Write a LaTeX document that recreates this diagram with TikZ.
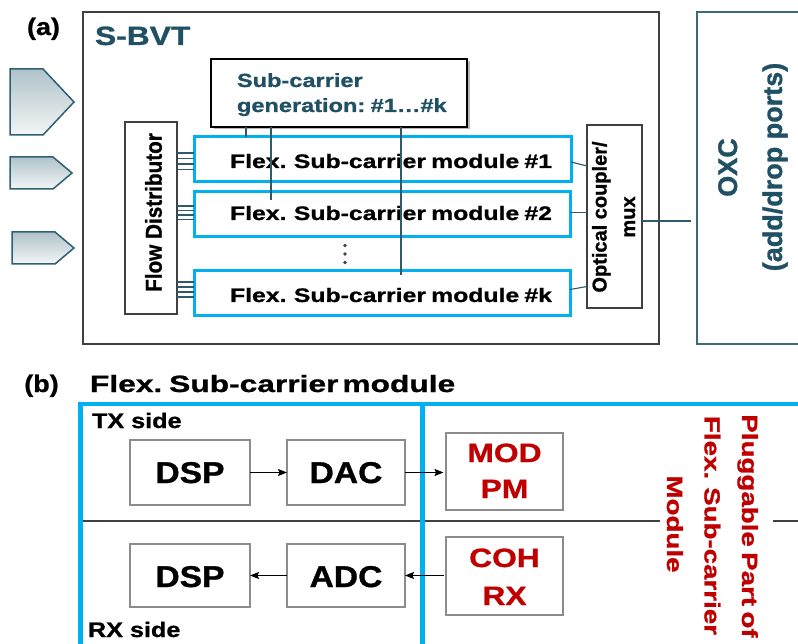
\documentclass[tikz,border=0pt]{standalone}
\usepackage{fontspec}
\setmainfont{Liberation Sans}
\newfontfamily\fN[FakeStretch=0.9,FakeBold=1]{Liberation Sans Bold}
\newfontfamily\fA[FakeStretch=1.0,FakeBold=1]{Liberation Sans Bold}
\newfontfamily\fB[FakeStretch=1.12,FakeBold=1]{Liberation Sans Bold}
\newfontfamily\fC[FakeStretch=1.2,FakeBold=1]{Liberation Sans Bold}
\newfontfamily\fD[FakeStretch=1.25,FakeBold=1]{Liberation Sans Bold}
\newfontfamily\fP[FakeStretch=1.26,FakeBold=1,WordSpace=0.7]{Liberation Sans Bold}
\newfontfamily\fG[FakeStretch=1.24,FakeBold=1,WordSpace=0.5]{Liberation Sans Bold}
\newfontfamily\fM[FakeStretch=1.27,FakeBold=1,WordSpace=0.75]{Liberation Sans Bold}
\newfontfamily\fE[FakeStretch=1.35,FakeBold=1,WordSpace=0.45]{Liberation Sans Bold}
\usetikzlibrary{arrows.meta,shadows}
\definecolor{tealt}{HTML}{1F5064}
\definecolor{cyanb}{HTML}{00B0F0}
\definecolor{redt}{HTML}{C00000}
\definecolor{framec}{HTML}{404040}
\definecolor{oxcc}{HTML}{3D6B7B}
\definecolor{arrb}{HTML}{2E6072}
\definecolor{busc}{HTML}{2F5A6A}
\definecolor{gboxc}{HTML}{8C8C8C}
\newcommand\fz[1]{\fontsize{#1pt}{#1pt}\selectfont}
\begin{document}
\begin{tikzpicture}[x=1pt,y=-1pt,
  txt/.style={inner sep=0pt, outer sep=0pt},
  bx/.style={draw=framec, line width=1.3pt, inner sep=0pt, outer sep=0pt, anchor=north west},
  modbox/.style={draw=cyanb, line width=3pt, inner sep=0pt, outer sep=0pt, minimum width=377pt, minimum height=45pt, anchor=north west},
  gbx/.style={draw=gboxc, line width=1.2pt, inner sep=0pt, outer sep=0pt, anchor=north west},
  busl/.style={draw=busc, line width=1.1pt},
  arr/.style={-{Stealth[length=9pt,width=7pt,inset=1.5pt]}, line width=1.1pt},
  pent/.style={draw=arrb, line width=1.5pt, top color=arrb!38!white, bottom color=arrb!6!white}
]
\useasboundingbox (0,0) rectangle (798,644);
\fill[white] (0,0) rectangle (798,644);
\clip (0,0) rectangle (798,644);

% ---------- (a) ----------
\node[txt, anchor=base] (la) at (43.5,35) {\fB\fz{24}(a)};

\path[pent] (10,69) -- (43,69) -- (74,102) -- (43,135) -- (10,135) -- cycle;
\path[pent] (10,157) -- (53,157) -- (72,173) -- (53,189) -- (10,189) -- cycle;
\path[pent] (12,232) -- (55,232) -- (74,248) -- (55,264) -- (12,264) -- cycle;

\node[bx, line width=1.5pt, minimum width=576pt, minimum height=332pt] (sbvt) at (83,12) {};
\node[draw=oxcc, line width=1.5pt, inner sep=0pt, outer sep=0pt, anchor=north west, minimum width=200pt, minimum height=332pt] (oxc) at (697,12) {};
\node[txt, anchor=base west, text=tealt] (sbvtl) at (95,45) {\fC\fz{26.5}S-BVT};

\node[draw=black, line width=2.5pt, fill=white, inner sep=0pt, outer sep=0pt, anchor=north west,
      minimum width=256pt, minimum height=68pt,
      drop shadow={shadow xshift=2.5pt, shadow yshift=-2.5pt, fill=black!55}] (gen) at (211,59) {};
\node[txt, anchor=base west, text=tealt] (gen1) at (237,87) {\fG\fz{19}Sub-carrier};
\node[txt, anchor=base west, text=tealt] (gen2) at (237,112) {\fG\fz{19}generation: \#1…\#k};

\node[bx, minimum width=52pt, minimum height=192pt] (fd) at (125,122) {};
\node[txt, rotate=90] (fdl) at (153.5,212.5) {\fN\fz{23}Flow Distributor};

\node[modbox] (m1) at (194,137) {};
\node[modbox, minimum width=376pt] (m2) at (194,192) {};
\node[modbox, minimum width=376pt] (mk) at (194,271) {};
\node[txt, anchor=base] (m1l) at (391,168) {\fM\fz{19.5}Flex. Sub-carrier module \#1};
\node[txt, anchor=base] (m2l) at (391,220) {\fM\fz{19.5}Flex. Sub-carrier module \#2};
\node[txt, anchor=base] (mkl) at (391,302) {\fM\fz{19.5}Flex. Sub-carrier module \#k};
\foreach \yy in {245.5,254,262.5} \fill[framec] (345,\yy) circle (1.9);

\node[bx, minimum width=55pt, minimum height=183pt] (cp) at (587,125) {};
\node[txt, rotate=90, anchor=base] (cp1) at (606.5,217) {\fA\fz{20}Optical coupler/};
\node[txt, rotate=90, anchor=base] (cp2) at (635,217) {\fA\fz{20}mux};

\node[txt, rotate=90, anchor=base, text=tealt] (ox1) at (737,167.5) {\fA\fz{27}OXC};
\node[txt, rotate=90, anchor=base, text=tealt] (ox2) at (782,167) {\fA\fz{27}(add/drop ports)};

% connectors
\coordinate (g1) at (246,127);
\coordinate (g2) at (271,200);
\coordinate (g3) at (401,275);
\draw[busl] (gen.south -| g1) -- (g1 |- m1.north);
\draw[busl] (gen.south -| g2) -- (g2);
\draw[busl] (gen.south -| g3) -- (g3);
\foreach \yy in {153,158.5,164,169.5} \draw[busl] (fd.east |- 0,\yy) -- (m1.west |- 0,\yy);
\foreach \yy in {206,210.5,215,219.5} \draw[busl] (fd.east |- 0,\yy) -- (m2.west |- 0,\yy);
\foreach \yy in {282,287,292,297} \draw[busl] (fd.east |- 0,\yy) -- (mk.west |- 0,\yy);
\draw[busl] (m1.east |- 0,162) -- (cp.west |- 0,166);
\draw[busl] (m2.east |- 0,212.5) -- (cp.west |- 0,212.5);
\draw[busl] (mk.east |- 0,289.5) -- (cp.west |- 0,286.5);
\coordinate (oxend) at (691,221);
\draw[busl] (cp.east |- oxend) -- (oxend);

% ---------- (b) ----------
\node[txt, anchor=base] (lb) at (41.5,392) {\fB\fz{24}(b)};
\node[txt, anchor=base west] (fsm) at (90,392) {\fE\fz{23.5}Flex. Sub-carrier module};

\draw[framec, line width=1.5pt] (80,521) -- (660,521);
\draw[framec, line width=1.5pt] (773,521) -- (830,521);
\node[draw=cyanb, line width=4.5pt, inner sep=0pt, outer sep=0pt, anchor=north west, minimum width=760pt, minimum height=280pt] (pb) at (80.5,404) {};
\coordinate (vtop) at (422,404);
\draw[cyanb, line width=5pt] (vtop) -- (vtop |- 0,680);

\node[txt, anchor=base west] (tx) at (92,428) {\fC\fz{21}TX side};
\node[txt, anchor=base west] (rx) at (88,637) {\fC\fz{21}RX side};

\node[gbx, minimum width=120pt, minimum height=65pt] (dsp1) at (130,440) {};
\node[gbx, minimum width=118pt, minimum height=65pt] (dac) at (287,440) {};
\node[gbx, minimum width=120pt, minimum height=63pt] (dsp2) at (130,544) {};
\node[gbx, minimum width=118pt, minimum height=63pt] (adc) at (287,544) {};
\node[gbx, minimum width=117pt, minimum height=77pt] (mod) at (446,433) {};
\node[gbx, minimum width=117pt, minimum height=78pt] (coh) at (446,537) {};

\node[txt, anchor=base] at (190,483) {\fB\fz{30}DSP};
\node[txt, anchor=base] at (346,483) {\fB\fz{30}DAC};
\node[txt, anchor=base] at (190,587) {\fB\fz{30}DSP};
\node[txt, anchor=base] at (346,587) {\fB\fz{30}ADC};
\node[txt, anchor=base, text=redt] at (504.5,462) {\fC\fz{26.5}MOD};
\node[txt, anchor=base, text=redt] at (504.5,498) {\fC\fz{26.5}PM};
\node[txt, anchor=base, text=redt] at (504.5,567) {\fC\fz{26.5}COH};
\node[txt, anchor=base, text=redt] at (504.5,605) {\fC\fz{26.5}RX};

\draw[arr] (dsp1.east) -- (dac.west);
\draw[arr, shorten >=2.5pt] (dac.east) -- (mod.west |- dac.east);
\draw[arr, shorten <=2.5pt] (coh.west |- adc.east) -- (adc.east);
\draw[arr] (adc.west) -- (dsp2.east);

\node[txt, rotate=-90, anchor=base, text=redt] (pl1) at (742,526) {\fP\fz{22}Pluggable Part of};
\node[txt, rotate=-90, anchor=base, text=redt] (pl2) at (704.5,525.5) {\fP\fz{22}Flex. Sub-carrier};
\node[txt, rotate=-90, anchor=base, text=redt] (pl3) at (667,524) {\fP\fz{22}Module};
\end{tikzpicture}
\end{document}
